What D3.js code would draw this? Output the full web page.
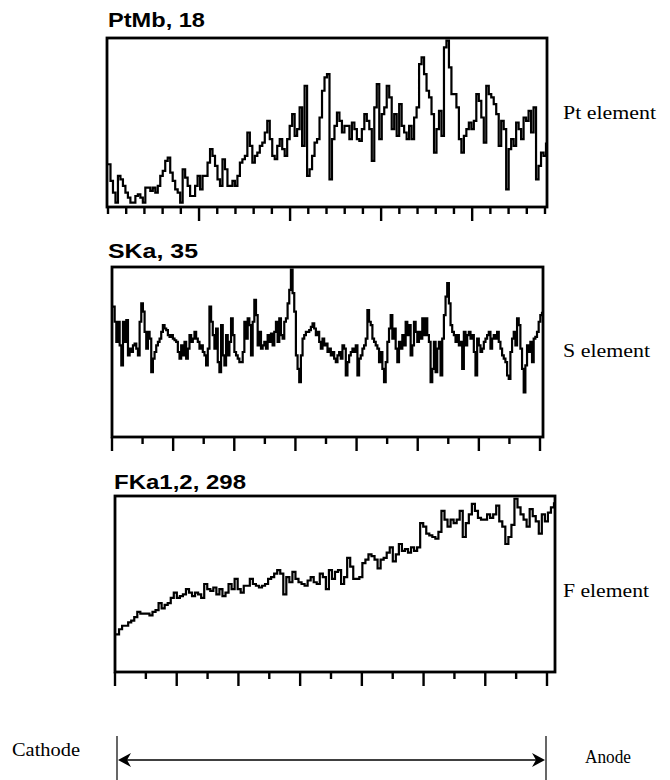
<!DOCTYPE html>
<html>
<head>
<meta charset="utf-8">
<script src="https://cdn.jsdelivr.net/npm/d3@7"></script>
<style>
  body { margin: 0; background: #fff; }
</style>
</head>
<body>
<div id="chart"></div>
<script>
// relative intensity (0 = box bottom, 100 = box top)
const ptValues = [25,15,8,2,18,16,12,8,5,2,2,6,7,5,2,11,11,9,11,8,12,18,21,27,29,20,15,10,8,2,
  22,17,12,6,6,12,18,10,18,18,26,34,30,24,16,12,28,22,12,12,15,12,18,26,28,30,44,36,26,30,
  32,36,38,44,51,40,30,28,36,40,34,30,40,48,55,42,46,59,36,72,18,22,30,38,40,53,69,77,79,16,
  40,48,56,51,44,48,48,40,50,46,40,39,46,55,51,46,27,59,73,40,55,59,72,65,46,55,42,61,48,44,
  40,48,40,53,59,85,89,79,69,65,55,32,46,57,42,95,99,83,67,67,59,40,32,42,46,50,46,51,67,63,
  53,38,72,67,65,61,55,36,51,46,10,34,40,36,50,46,40,53,51,57,44,59,16,24,32,30,38];

const sValues = [77,68,56,68,54,42,68,56,69,48,52,50,54,55,52,48,68,79,74,62,52,62,58,38,46,50,54,56,58,62,
  66,64,63,60,59,60,58,57,56,50,46,54,48,56,46,52,60,56,58,62,58,56,52,54,50,48,42,52,77,68,
  60,52,64,44,38,66,48,42,60,48,56,70,60,50,48,46,44,44,50,68,58,70,66,48,68,81,72,54,62,52,
  54,56,52,60,56,61,54,62,68,56,70,60,58,68,70,79,87,99,85,74,48,40,32,48,58,60,62,62,63,65,
  67,64,60,62,56,52,58,54,55,50,52,48,50,46,44,48,50,46,54,52,36,44,48,50,52,50,54,36,46,48,
  52,54,58,75,68,66,58,56,54,52,44,50,40,32,44,56,64,72,58,64,52,44,56,52,60,54,68,60,66,48,
  54,68,62,56,62,58,70,60,70,60,56,32,40,56,38,52,56,36,58,72,83,91,79,66,62,60,56,60,54,56,
  40,62,54,60,62,58,60,50,36,58,54,50,52,56,58,60,62,52,58,60,58,62,56,52,48,46,44,36,34,50,
  58,62,54,70,66,52,40,26,42,54,50,56,44,58,59,62,68,72,74];

const fValues = [21,24,26,26,28,29,31,34,33,33,33,32,34,35,39,36,38,39,42,45,42,43,44,47,45,43,45,44,42,50,
  47,46,48,44,47,43,45,50,47,53,47,45,49,49,53,50,49,48,49,50,53,54,56,58,56,44,54,51,57,53,
  51,50,49,52,54,51,50,56,54,47,58,53,57,58,50,54,65,60,53,53,54,62,64,67,66,64,59,64,65,68,
  71,63,67,73,69,70,68,71,69,71,85,83,79,78,77,76,80,92,87,83,87,85,87,92,77,85,90,96,92,88,
  87,87,90,88,90,95,86,83,73,77,84,99,94,90,87,83,93,89,86,79,90,86,91,94,97];

const titles = ["PtMb, 18", "SKa, 35", "FKa1,2, 298"];
const elementLabels = ["Pt element", "S element", "F element"];
const tickCounts = [25, 15, 15];
const majorEvery = [5, 2, 2];
const endLabels = ["Cathode", "Anode"];

const series = [ptValues, sValues, fValues];

// box geometry of each panel on the page
const boxes = [
  {x0: 107, x1: 547, y0: 38, y1: 207, t0: 108, t1: 545, titleX: 108, titleY: 27, titleW: 97, labelY: 119, labelW: 93},
  {x0: 112, x1: 543, y0: 267, y1: 437, t0: 112, t1: 540, titleX: 108, titleY: 258, titleW: 90, labelY: 357, labelW: 87},
  {x0: 115, x1: 555, y0: 496, y1: 672, t0: 115, t1: 547, titleX: 114, titleY: 489, titleW: 132, labelY: 597, labelW: 86}
];

const width = 670, height = 780;
const serif = "Liberation Serif, Times New Roman, serif";

const svg = d3.select("#chart")
  .append("svg")
  .attr("width", width)
  .attr("height", height)
  .style("display", "block");

boxes.forEach((b, i) => {
  const vals = series[i];
  const x = d3.scaleLinear().domain([0, vals.length - 1]).range([b.x0 + 1, b.x1 - 1]);
  const y = d3.scaleLinear().domain([0, 100]).range([b.y1 - 1, b.y0 + 1]);

  const line = d3.line()
    .x((d, j) => x(j))
    .y(d => y(d))
    .curve(d3.curveStepAfter);

  svg.append("path")
    .datum(vals)
    .attr("d", line)
    .attr("fill", "none")
    .attr("stroke", "#000")
    .attr("stroke-width", 2.2);

  svg.append("rect")
    .attr("x", b.x0)
    .attr("y", b.y0)
    .attr("width", b.x1 - b.x0)
    .attr("height", b.y1 - b.y0)
    .attr("fill", "none")
    .attr("stroke", "#000")
    .attr("stroke-width", 2.8);

  // tick marks under the box
  const tx = d3.scaleLinear().domain([0, tickCounts[i] - 1]).range([b.t0, b.t1]);
  svg.selectAll(".tick" + i)
    .data(d3.range(tickCounts[i]))
    .enter()
    .append("line")
    .attr("class", "tick" + i)
    .attr("x1", d => tx(d))
    .attr("x2", d => tx(d))
    .attr("y1", b.y1)
    .attr("y2", d => {
      const major = i === 0 ? (d % majorEvery[i] === 0 && d > 0 && d < tickCounts[i] - 1) : d % majorEvery[i] === 0;
      return b.y1 + (major ? 14 : 7);
    })
    .attr("stroke", "#000")
    .attr("stroke-width", 2.4);

  svg.append("text")
    .attr("x", b.titleX)
    .attr("y", b.titleY)
    .attr("font-family", "Liberation Sans, Arial, sans-serif")
    .attr("font-weight", "bold")
    .attr("font-size", 21)
    .attr("textLength", b.titleW)
    .attr("lengthAdjust", "spacingAndGlyphs")
    .text(titles[i]);

  svg.append("text")
    .attr("x", 563)
    .attr("y", b.labelY)
    .attr("font-family", serif)
    .attr("font-size", 19)
    .attr("textLength", b.labelW)
    .attr("lengthAdjust", "spacingAndGlyphs")
    .text(elementLabels[i]);
});

// cathode / anode arrow
const ax0 = 117, ax1 = 546, ay = 760;
svg.append("line").attr("x1", ax0).attr("x2", ax0).attr("y1", 736).attr("y2", 780)
  .attr("stroke", "#000").attr("stroke-width", 1.2);
svg.append("line").attr("x1", ax1).attr("x2", ax1).attr("y1", 736).attr("y2", 780)
  .attr("stroke", "#000").attr("stroke-width", 1.2);
svg.append("line").attr("x1", ax0 + 4).attr("x2", ax1 - 4).attr("y1", ay).attr("y2", ay)
  .attr("stroke", "#000").attr("stroke-width", 1.5);
svg.append("path")
  .attr("d", `M${ax0 + 1},${ay} L${ax0 + 14},${ay - 7} L${ax0 + 10},${ay} L${ax0 + 14},${ay + 7} Z`)
  .attr("fill", "#000");
svg.append("path")
  .attr("d", `M${ax1 - 1},${ay} L${ax1 - 14},${ay - 7} L${ax1 - 10},${ay} L${ax1 - 14},${ay + 7} Z`)
  .attr("fill", "#000");

svg.append("text")
  .attr("x", 12).attr("y", 756)
  .attr("font-family", serif)
  .attr("font-size", 19)
  .attr("textLength", 68)
  .attr("lengthAdjust", "spacingAndGlyphs")
  .text(endLabels[0]);
svg.append("text")
  .attr("x", 585).attr("y", 763)
  .attr("font-family", serif)
  .attr("font-size", 19)
  .attr("textLength", 46)
  .attr("lengthAdjust", "spacingAndGlyphs")
  .text(endLabels[1]);
</script>
</body>
</html>
